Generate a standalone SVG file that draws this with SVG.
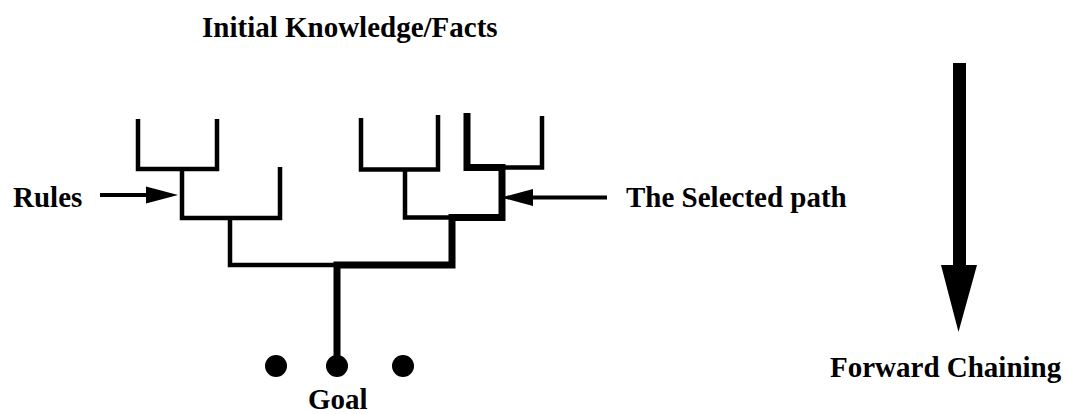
<svg xmlns="http://www.w3.org/2000/svg" width="1068" height="414" viewBox="0 0 1068 414">
  <style>
    .lbl { font-family: "Liberation Serif", "Times New Roman", serif; font-weight: bold; font-size: 29px; fill: #000; }
    .rule { fill: none; stroke: #000; stroke-width: 4.5; stroke-linejoin: miter; stroke-linecap: butt; }
    .sel { fill: none; stroke: #000; stroke-width: 7; stroke-linejoin: miter; stroke-linecap: butt; }
    .ptr { fill: none; stroke: #000; stroke-width: 4; }
  </style>
  <defs>
    <marker id="head" markerUnits="userSpaceOnUse" markerWidth="34" markerHeight="18" refX="2" refY="8.5" orient="auto" overflow="visible">
      <path d="M0,0 L32,8.5 L0,17 Z" fill="#000"/>
    </marker>
  </defs>
  <rect width="1068" height="414" fill="#fff"/>

  <!-- title -->
  <g id="facts">
    <text class="lbl" x="202" y="37">Initial Knowledge/Facts</text>
  </g>

  <!-- rule tree and chaining path -->
  <g id="connectors">
    <polyline class="rule" points="138,119 138,169 217,169 217,119"/>
    <polyline class="rule" points="182,169 182,218 280,218 280,167"/>
    <polyline class="rule" points="230,218 230,265 337,265"/>
    <polyline class="rule" points="361,118 361,169.5 438,169.5 438,115"/>
    <polyline class="rule" points="405,169.5 405,217.5 452,217.5"/>
    <polyline class="rule" points="502,167.5 542,167.5 542,116"/>
    <polyline class="sel" points="467,113 467,167.5 502,167.5 502,217.5 452,217.5 452,265 337,265 337,362"/>
    <path class="ptr" d="M100,195 L148,195" marker-end="url(#head)"/>
    <path class="ptr" d="M607,197.5 L531,197.5" marker-end="url(#head)"/>
  </g>

  <g id="rules">
    <text class="lbl" x="13" y="207">Rules</text>
  </g>

  <g id="selected-path">
    <text class="lbl" x="626" y="207">The Selected path</text>
  </g>

  <g id="goal">
    <circle cx="276" cy="366" r="11"/>
    <circle cx="337" cy="366" r="11"/>
    <circle cx="403" cy="366" r="11"/>
    <text class="lbl" x="308" y="409">Goal</text>
  </g>

  <g id="forward-chaining">
    <rect x="953" y="63" width="13" height="203" fill="#000"/>
    <polygon points="941,265 977,265 958.5,332" fill="#000"/>
    <text class="lbl" x="830" y="377">Forward Chaining</text>
  </g>
</svg>
